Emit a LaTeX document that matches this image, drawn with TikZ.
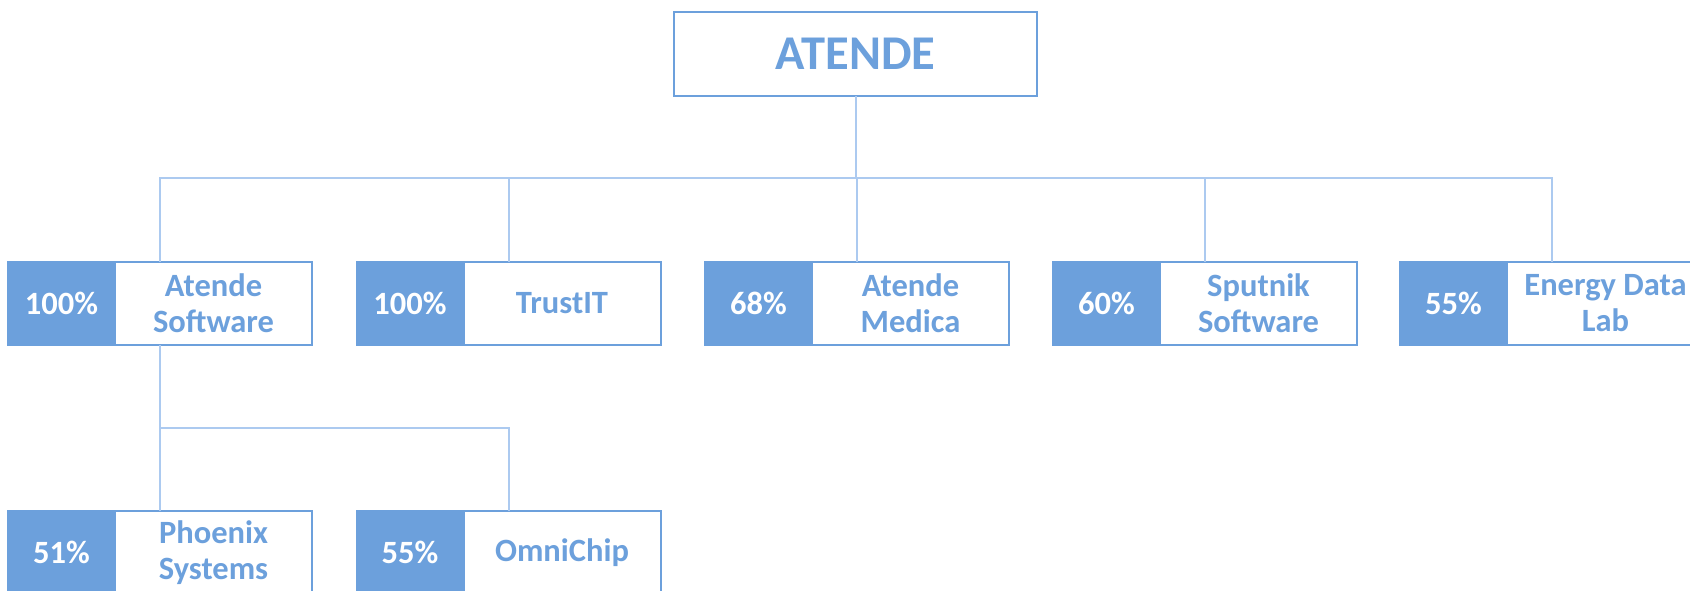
\documentclass[tikz,border=0pt]{standalone}
\usepackage{fontspec}
\setmainfont{Carlito}
\usetikzlibrary{positioning,calc}
\definecolor{atblue}{RGB}{108,160,220}
\definecolor{linkblue}{RGB}{172,202,240}
\tikzset{
  root/.style={draw=atblue, line width=2pt, fill=white, text=atblue, minimum width=363pt, minimum height=84pt, inner sep=0pt, outer sep=0pt, font=\fontsize{48.5}{58}\selectfont\bfseries},
  pct/.style={draw=atblue, fill=atblue, text=white, line width=2pt, minimum width=107pt, minimum height=83pt, inner sep=0pt, outer sep=0pt, font=\fontsize{32.5}{36}\selectfont\bfseries},
  unit/.style={draw=atblue, fill=white, text=atblue, line width=2pt, minimum width=197pt, minimum height=83pt, inner sep=0pt, outer sep=0pt, align=center, font=\fontsize{32.5}{36}\selectfont\bfseries},
  link/.style={draw=linkblue, line width=2pt}
}

\begin{document}
\begin{tikzpicture}[x=1pt,y=-1pt]
\clip (0,0) rectangle (1690,590);

% holding
\node[root] (atende) at (855.5,54) {ATENDE};

% first level
\foreach \i/\x/\p/\t in {1/8/100/{Atende\\Software},2/356.5/100/TrustIT,3/705/68/{Atende\\Medica},4/1053/60/{Sputnik\\Software},5/1400/55/{Energy Data\\Lab}}{
  \node[pct, anchor=north west] (p\i) at (\x,262) {\p\%};
  \node[unit, right=0pt of p\i] (n\i) {\t};
  \coordinate (t\i) at ($(p\i.north west)!.5!(n\i.north east)$);
  \draw[link] (atende.south) -- +(0,82) -| (t\i);
}

% second level
\coordinate (b1) at ($(p1.south west)!.5!(n1.south east)$);
\foreach \i/\x/\p/\t in {6/8/51/{Phoenix\\Systems},7/356.5/55/OmniChip}{
  \node[pct, anchor=north west] (p\i) at (\x,511) {\p\%};
  \node[unit, right=0pt of p\i] (n\i) {\t};
  \coordinate (t\i) at ($(p\i.north west)!.5!(n\i.north east)$);
  \draw[link] (b1) -- +(0,83) -| (t\i);
}
\end{tikzpicture}
\end{document}
